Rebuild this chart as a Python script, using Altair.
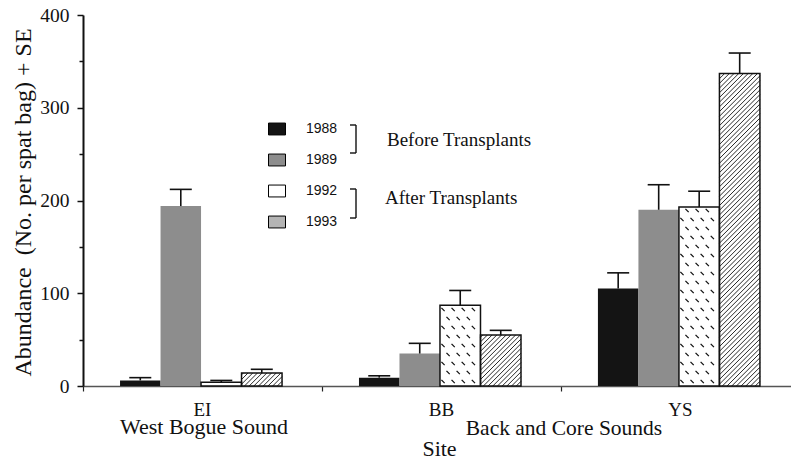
import altair as alt
import pandas as pd

# ---------------- data ----------------
sites = ["EI", "BB", "YS"]
years = ["1988", "1989", "1992", "1993"]
abundance_1988 = [6, 9, 105]
abundance_1989 = [194, 35, 190]
abundance_1992 = [4, 87, 193]
abundance_1993 = [14, 55, 337]
se_1988 = [3, 2, 17]
se_1989 = [18, 11, 27]
se_1992 = [2, 16, 17]
se_1993 = [4, 5, 22]
group_names = ["West Bogue Sound", "Back and Core Sounds"]
period_names = ["Before Transplants", "After Transplants"]
y_title = "Abundance\u00a0 (No. per spat bag) + SE"
x_title = "Site"
y_ticks = [0, 50, 100, 150, 200, 250, 300, 350, 400]

abund = [abundance_1988, abundance_1989, abundance_1992, abundance_1993]
ses = [se_1988, se_1989, se_1992, se_1993]
records = []
for yi, yr in enumerate(years):
    for si, st in enumerate(sites):
        records.append({"site": st, "site_idx": si, "year": yr, "year_idx": yi,
                        "value": abund[yi][si], "se": ses[yi][si]})
df = pd.DataFrame(records)
site_df = pd.DataFrame({"site": sites, "site_idx": list(range(len(sites)))})

# ---------------- layout / style constants ----------------
W, H = 708, 371
XMAX = 2.963
PXU = W / XMAX          # px per site unit
PYU = H / 400.0         # px per abundance unit
OFF = 0.155             # offset of first bar inside a site band
BW = 0.1695             # bar width in site units
CAP = 22 / PXU
RISE = BW * PXU / PYU   # 45 degree hatch rise across one bar
HSTEP = 4.7 / PYU
DROW = 9.0 / PYU
DX = 3.2 / PXU
DY = 3.2 / PYU

SERIF = "Liberation Serif"
SANS = "Liberation Sans"
INK = "#111111"

xscale = alt.Scale(domain=[0, XMAX], nice=False, zero=False)
yscale = alt.Scale(domain=[0, 400], nice=False)
xaxis = alt.Axis(values=[0, 1, 2], labels=False, tickSize=5, tickWidth=1.2,
                 tickColor="#222222", domainColor="#555555", domainWidth=1.5,
                 grid=False, title=x_title, titleFont=SERIF, titleFontSize=22,
                 titleFontWeight="normal", titleColor=INK, titleX=356, titleY=69,
                 titleBaseline="alphabetic", titleAlign="center")
yaxis = alt.Axis(values=y_ticks,
                 labelExpr="datum.value % 100 === 0 ? datum.label : ''",
                 tickSize={"condition": {"test": "datum.value % 100 === 0", "value": 6}, "value": 4},
                 tickWidth=1.5, tickColor=INK, domainColor=INK, domainWidth=2,
                 labelFont=SERIF, labelFontSize=19.5, labelColor=INK, labelPadding=8,
                 grid=False, title=y_title, titleFont=SERIF, titleFontSize=24,
                 titleFontWeight="normal", titleColor=INK, titleX=-60, titleY=187,
                 titleAngle=270, titleAlign="center", titleBaseline="middle")


def X(f):
    return alt.X(f, type="quantitative", scale=xscale, axis=xaxis)


def Y(f):
    return alt.Y(f, type="quantitative", scale=yscale, axis=yaxis)


base = alt.Chart(df).transform_calculate(
    xl=f"datum.site_idx + {OFF} + datum.year_idx * {BW}",
    xr=f"datum.site_idx + {OFF} + (datum.year_idx + 1) * {BW}",
    xc=f"datum.site_idx + {OFF} + (datum.year_idx + 0.5) * {BW}",
    top="datum.value + datum.se",
    zero="0",
)

legend = alt.Legend(orient="none", legendX=185, legendY=105, title=None,
                    direction="vertical", symbolType="M-1,-0.7H1V0.7H-1Z",
                    symbolSize=289, symbolStrokeColor="black", symbolStrokeWidth=1,
                    labelFont=SANS, labelFontSize=14, labelColor=INK,
                    labelOffset=20, rowPadding=14, padding=0)

bars = base.mark_rect(strokeWidth=0).encode(
    x=X("xl"), x2="xr:Q", y=Y("value"), y2="zero:Q",
    fill=alt.Fill("year:N",
                  scale=alt.Scale(domain=years,
                                  range=["#141414", "#8d8d8d", "#ffffff", "#b4b4b4"]),
                  legend=legend),
)

white93 = base.transform_filter("datum.year === '1993'").mark_rect(
    fill="white", strokeWidth=0).encode(x=X("xl"), x2="xr:Q", y=Y("value"), y2="zero:Q")

hatch = base.transform_filter("datum.year === '1993'").transform_calculate(
    ks=f"sequence(-{RISE}, datum.value, {HSTEP})"
).transform_flatten(["ks"]).transform_calculate(
    y0="max(datum.ks, 0)",
    y1=f"min(datum.ks + {RISE}, datum.value)",
).transform_calculate(
    x0=f"datum.xl + (datum.y0 - datum.ks) / {RISE} * {BW}",
    x1=f"datum.xl + (datum.y1 - datum.ks) / {RISE} * {BW}",
).transform_filter("datum.y1 > datum.y0").mark_rule(
    color=INK, strokeWidth=0.9).encode(x=X("x0"), x2="x1:Q", y=Y("y0"), y2="y1:Q")

dashes = base.transform_filter("datum.year === '1992'").transform_calculate(
    rs=f"sequence({DROW / 2}, datum.value, {DROW})"
).transform_flatten(["rs"]).transform_calculate(
    ri=f"round((datum.rs - {DROW / 2}) / {DROW})",
    cs="[0, 1, 2, 3]",
).transform_flatten(["cs"]).transform_calculate(
    xm=f"datum.xl + ((datum.cs + 0.3 + (datum.ri % 2) * 0.5) / 4) * {BW}",
).transform_calculate(
    xa=f"datum.xm - {DX / 2}", xb=f"datum.xm + {DX / 2}",
    ya=f"datum.rs + {DY / 2}", yb=f"datum.rs - {DY / 2}",
).transform_filter(
    f"datum.ya < datum.value - 1 && datum.xb < datum.xl + {BW} - 0.006 && datum.yb > 1"
).mark_rule(color=INK, strokeWidth=1.3).encode(
    x=X("xa"), x2="xb:Q", y=Y("ya"), y2="yb:Q")

outline = base.transform_filter("datum.year === '1992' || datum.year === '1993'").mark_rect(
    fillOpacity=0, stroke=INK, strokeWidth=1.5).encode(
    x=X("xl"), x2="xr:Q", y=Y("value"), y2="zero:Q")

err = base.mark_rule(color=INK, strokeWidth=1.6).encode(x=X("xc"), y=Y("value"), y2="top:Q")
cap = base.transform_calculate(
    ca=f"datum.xc - {CAP / 2}", cb=f"datum.xc + {CAP / 2}"
).mark_rule(color=INK, strokeWidth=1.6).encode(x=X("ca"), x2="cb:Q", y=Y("top"))

site_labels = alt.Chart(site_df).transform_calculate(
    xm="datum.site_idx + 0.5"
).mark_text(font=SERIF, fontSize=19, baseline="alphabetic", color=INK).encode(
    x=X("xm"), y=alt.value(401), text="site:N")

one = pd.DataFrame({"k": [0]})


def text_layer(label, px, py, size, align="center", font=SERIF):
    return alt.Chart(pd.DataFrame({"label": [label]})).mark_text(
        font=font, fontSize=size, align=align, baseline="alphabetic", color=INK
    ).encode(x=alt.value(px), y=alt.value(py), text="label:N")


def bracket(xv, ytop, ybot, xs):
    v = alt.Chart(one).mark_rule(color=INK, strokeWidth=1.4).encode(
        x=alt.value(xv), y=alt.value(ytop), y2=alt.value(ybot))
    t1 = alt.Chart(one).mark_rule(color=INK, strokeWidth=1.4).encode(
        x=alt.value(xs), x2=alt.value(xv), y=alt.value(ytop))
    t2 = alt.Chart(one).mark_rule(color=INK, strokeWidth=1.4).encode(
        x=alt.value(xs), x2=alt.value(xv), y=alt.value(ybot))
    return [v, t1, t2]


annotations = [
    text_layer(group_names[0], 121, 419, 22),
    text_layer(group_names[1], 481, 420, 21.5),
    text_layer(period_names[0], 304, 131, 19, align="left"),
    text_layer(period_names[1], 302, 189, 19, align="left"),
] + bracket(273, 110, 138, 267) + bracket(273, 174, 203, 267)

chart = alt.layer(
    bars, white93, hatch, dashes, outline, err, cap, site_labels, *annotations
).properties(
    width=W, height=H,
    padding={"left": 75, "top": 7, "right": 0, "bottom": 73},
    autosize=alt.AutoSizeParams(type="none"),
).configure_view(strokeWidth=0)

chart.save("out.html", embed_options={"renderer": "svg", "actions": False})
